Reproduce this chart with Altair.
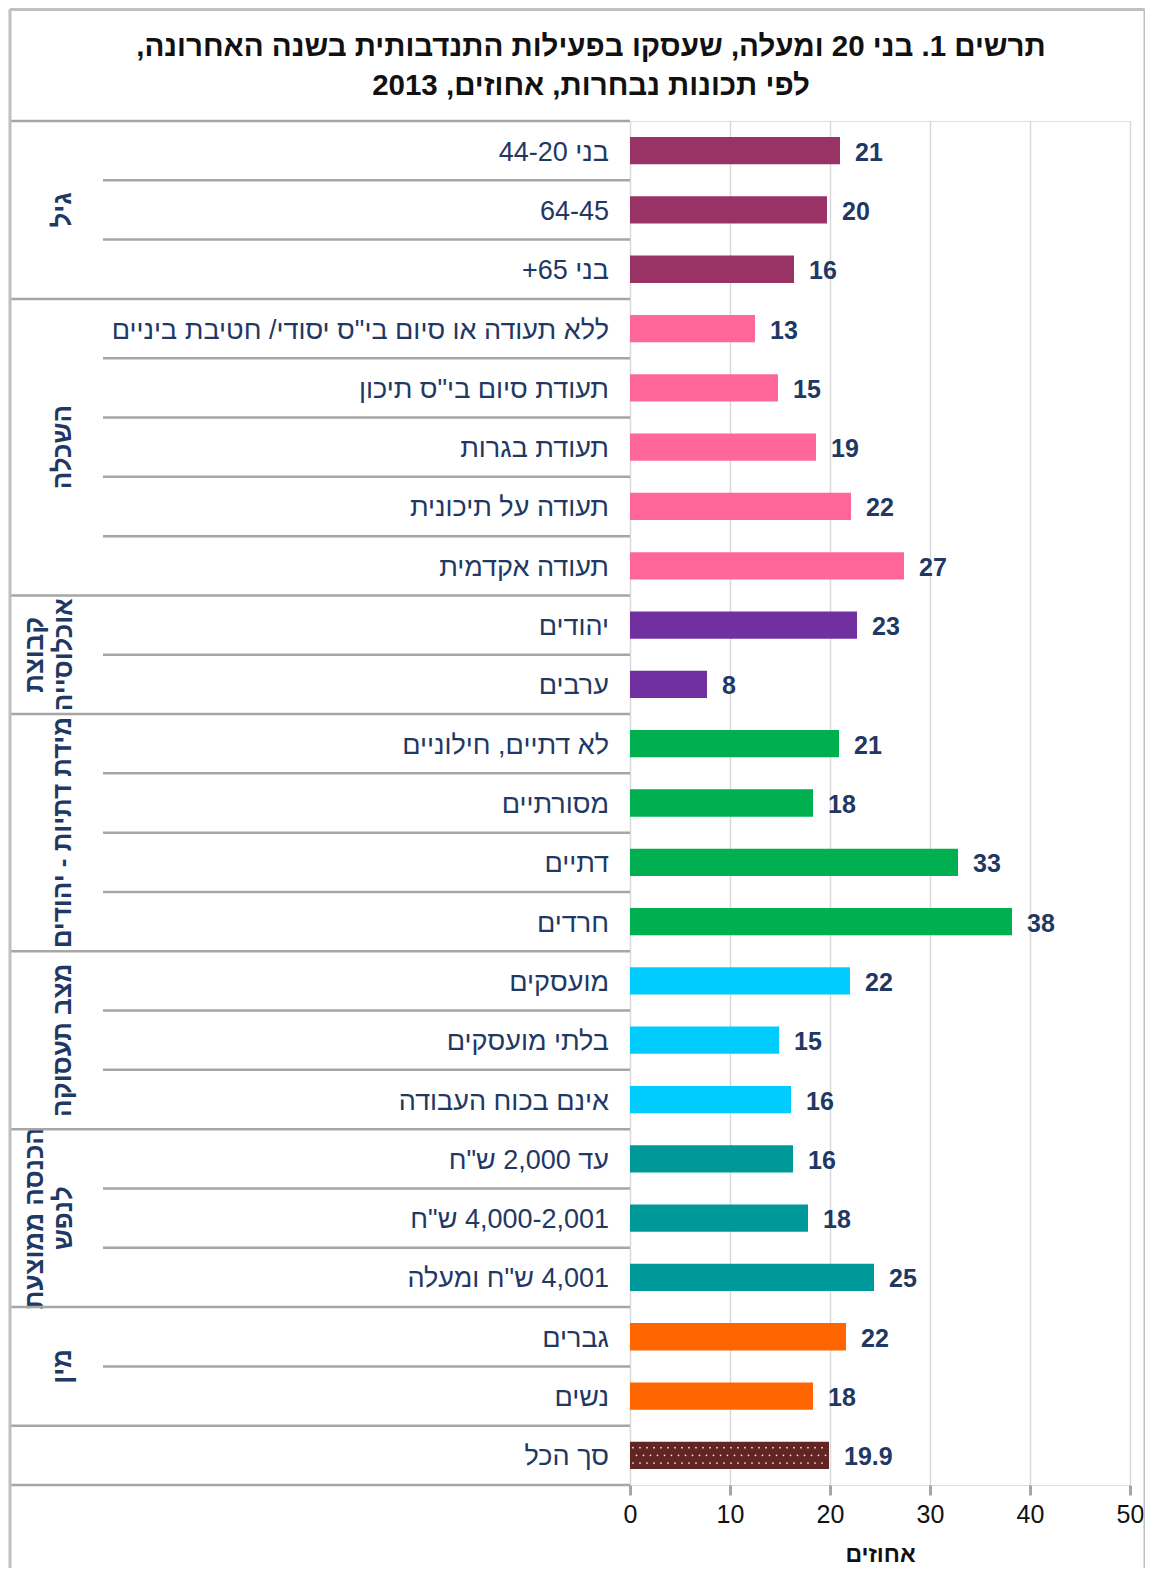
import altair as alt
import pandas as pd
import numpy as np

RLE, PDF = "\u202b", "\u202c"
FONT = "Liberation Sans, Arimo, Arial, DejaVu Sans, sans-serif"
NAVY = "#1f3864"

title_lines = [
    "תרשים 1. בני 20 ומעלה, שעסקו בפעילות התנדבותית בשנה האחרונה,",
    "לפי תכונות נבחרות, אחוזים, 2013",
]

group_titles = [
    ["גיל"],
    ["השכלה"],
    ["קבוצת", "אוכלוסייה"],
    ["מידת דתיות - יהודים"],
    ["מצב תעסוקה"],
    ["הכנסה ממוצעת", "לנפש"],
    ["מין"],
    [],
]
group_sizes = [3, 5, 2, 4, 3, 3, 2, 1]
group_colors = ["#993366", "#ff6699", "#7030a0", "#00b050",
                "#00ccff", "#009999", "#ff6600", "#632523"]

categories = [
    "בני 44-20", "64-45", "בני 65+",
    "ללא תעודה או סיום בי\"ס יסודי/ חטיבת ביניים", "תעודת סיום בי\"ס תיכון",
    "תעודת בגרות", "תעודה על תיכונית", "תעודה אקדמית",
    "יהודים", "ערבים",
    "לא דתיים, חילוניים", "מסורתיים", "דתיים", "חרדים",
    "מועסקים", "בלתי מועסקים", "אינם בכוח העבודה",
    "עד 2,000 ש\"ח", "4,000-2,001 ש\"ח", "4,001 ש\"ח ומעלה",
    "גברים", "נשים",
    "סך הכל",
]
values = [21.0, 19.7, 16.4,
          12.5, 14.8, 18.6, 22.1, 27.4,
          22.7, 7.7,
          20.9, 18.3, 32.8, 38.2,
          22.0, 14.9, 16.1,
          16.3, 17.8, 24.4,
          21.6, 18.3,
          19.9]
value_labels = ["21", "20", "16",
                "13", "15", "19", "22", "27",
                "23", "8",
                "21", "18", "33", "38",
                "22", "15", "16",
                "16", "18", "25",
                "22", "18",
                "19.9"]

def rtl(s):
    return RLE + s + PDF

# ---- build tables ----
rows = []
grp_rows = []
i = 0
boundaries_group = [0]
for gi, (gt, n) in enumerate(zip(group_titles, group_sizes)):
    grp_rows.append({"gid": gi, "lines": [rtl(t) for t in gt], "mid": i + n / 2,
                     "nlines": len(gt)})
    for k in range(n):
        rows.append({"idx": i, "gid": gi, "cat": rtl(categories[i]),
                     "value": values[i], "vlab": value_labels[i]})
        i += 1
    boundaries_group.append(i)
n_rows = i
df = pd.DataFrame(rows)
df["y0"] = df["idx"] + 0.27
df["y1"] = df["idx"] + 0.73
df["yc"] = df["idx"] + 0.5
gdf = pd.DataFrame(grp_rows)
inner = [b for b in range(1, n_rows) if b not in boundaries_group]
gb_df = pd.DataFrame({"b": boundaries_group})
ib_df = pd.DataFrame({"b": inner})

W, H = 500, 1364
PAD = {"left": 622, "top": 113, "right": 15, "bottom": 83}
LEFT_EDGE = -620      # outer frame / table left edge
RIGHT_EDGE = 514.5    # outer frame right edge
INNER_EDGE = -527     # start of row separators

yscale = alt.Scale(domain=[0, n_rows], reverse=True, nice=False, zero=False)
xscale = alt.Scale(domain=[0, 50], nice=False)

base = alt.Chart(df)

bars = base.mark_bar().encode(
    x=alt.X("value:Q", scale=xscale,
            axis=alt.Axis(values=[0, 10, 20, 30, 40, 50], title="אחוזים",
                          grid=True, gridColor="#d9d9d9", gridWidth=1.5,
                          domain=False, tickColor="#a6a6a6", tickWidth=3,
                          tickSize=10, labelFontSize=25, labelColor="#111111",
                          labelPadding=7, labelFlush=False,
                          titleFontSize=23, titleFontWeight="bold",
                          titleColor="#111111", titlePadding=16,
                          labelFont=FONT, titleFont=FONT)),
    x2=alt.value(0),
    y=alt.Y("y0:Q", scale=yscale, axis=None),
    y2="y1:Q",
    color=alt.Color("gid:N", scale=alt.Scale(domain=list(range(len(group_sizes))),
                                             range=group_colors), legend=None),
)

# white dot texture on the total bar
tot = df.iloc[-1]
dots = []
for r, off in zip([0.37, 0.5, 0.63], [0.3, 0.65, 0.3]):
    for xv in np.arange(off, tot["value"] - 0.2, 0.7):
        dots.append({"dx_": float(xv), "dy_": tot["idx"] + r})
dots_df = pd.DataFrame(dots)
dot_layer = alt.Chart(dots_df).mark_circle(size=3, color="white", opacity=0.9).encode(
    x=alt.X("dx_:Q", scale=xscale), y=alt.Y("dy_:Q", scale=yscale))

vlabels = base.mark_text(align="left", baseline="middle", dx=15, dy=2, fontSize=25,
                         fontWeight="bold", color=NAVY, font=FONT).encode(
    x=alt.X("value:Q", scale=xscale), y=alt.Y("yc:Q", scale=yscale), text="vlab:N")

clabels = base.mark_text(align="right", baseline="middle", dy=2, fontSize=27,
                         color=NAVY, font=FONT).encode(
    x=alt.value(-21), y=alt.Y("yc:Q", scale=yscale), text="cat:N")

g1 = alt.Chart(gdf).transform_filter("datum.nlines == 1").mark_text(
    angle=270, align="center", baseline="middle", fontSize=26, fontWeight="bold",
    color=NAVY, font=FONT).encode(
    x=alt.value(-567), y=alt.Y("mid:Q", scale=yscale), text="lines")
g2 = alt.Chart(gdf).transform_filter("datum.nlines == 2").mark_text(
    angle=270, align="center", baseline="middle", fontSize=26, fontWeight="bold",
    color=NAVY, font=FONT, lineHeight=29).encode(
    x=alt.value(-595), y=alt.Y("mid:Q", scale=yscale), text="lines")

LINE = "#a6a6a6"
grp_lines = alt.Chart(gb_df).mark_rule(color=LINE, strokeWidth=2.5).encode(
    y=alt.Y("b:Q", scale=yscale), x=alt.value(LEFT_EDGE), x2=alt.value(0))
inner_lines = alt.Chart(ib_df).mark_rule(color=LINE, strokeWidth=2.5).encode(
    y=alt.Y("b:Q", scale=yscale), x=alt.value(INNER_EDGE), x2=alt.value(0))

FR = "#c0c0c0"
frame_df = pd.DataFrame({"k": [0]})
fr = alt.Chart(frame_df)
frame_left = fr.mark_rule(color=FR, strokeWidth=3).encode(
    x=alt.value(LEFT_EDGE), y=alt.value(-112), y2=alt.value(H + PAD["bottom"]))
frame_right = fr.mark_rule(color=FR, strokeWidth=2).encode(
    x=alt.value(RIGHT_EDGE), y=alt.value(-112), y2=alt.value(H + PAD["bottom"]))
frame_top = fr.mark_rule(color=FR, strokeWidth=3).encode(
    y=alt.value(-111.5), x=alt.value(LEFT_EDGE), x2=alt.value(RIGHT_EDGE))

title_df = pd.DataFrame({"t": [[rtl(l) for l in title_lines]]})
title = alt.Chart(title_df).mark_text(align="center", baseline="middle", fontSize=29.5,
                                      fontWeight="bold", color="#111111", font=FONT,
                                      lineHeight=39).encode(
    x=alt.value(-39), y=alt.value(-74), text="t")

chart = alt.layer(
    bars, dot_layer, vlabels, clabels, g1, g2, grp_lines, inner_lines,
    frame_left, frame_right, frame_top, title,
).properties(
    width=W, height=H, padding=PAD,
    autosize=alt.AutoSizeParams(type="none"),
).configure_view(
    stroke="#a6a6a6", strokeWidth=3, fill="#f2f2f2",
).configure(font=FONT)

chart.save("out.html", embed_options={"renderer": "svg", "actions": False})
